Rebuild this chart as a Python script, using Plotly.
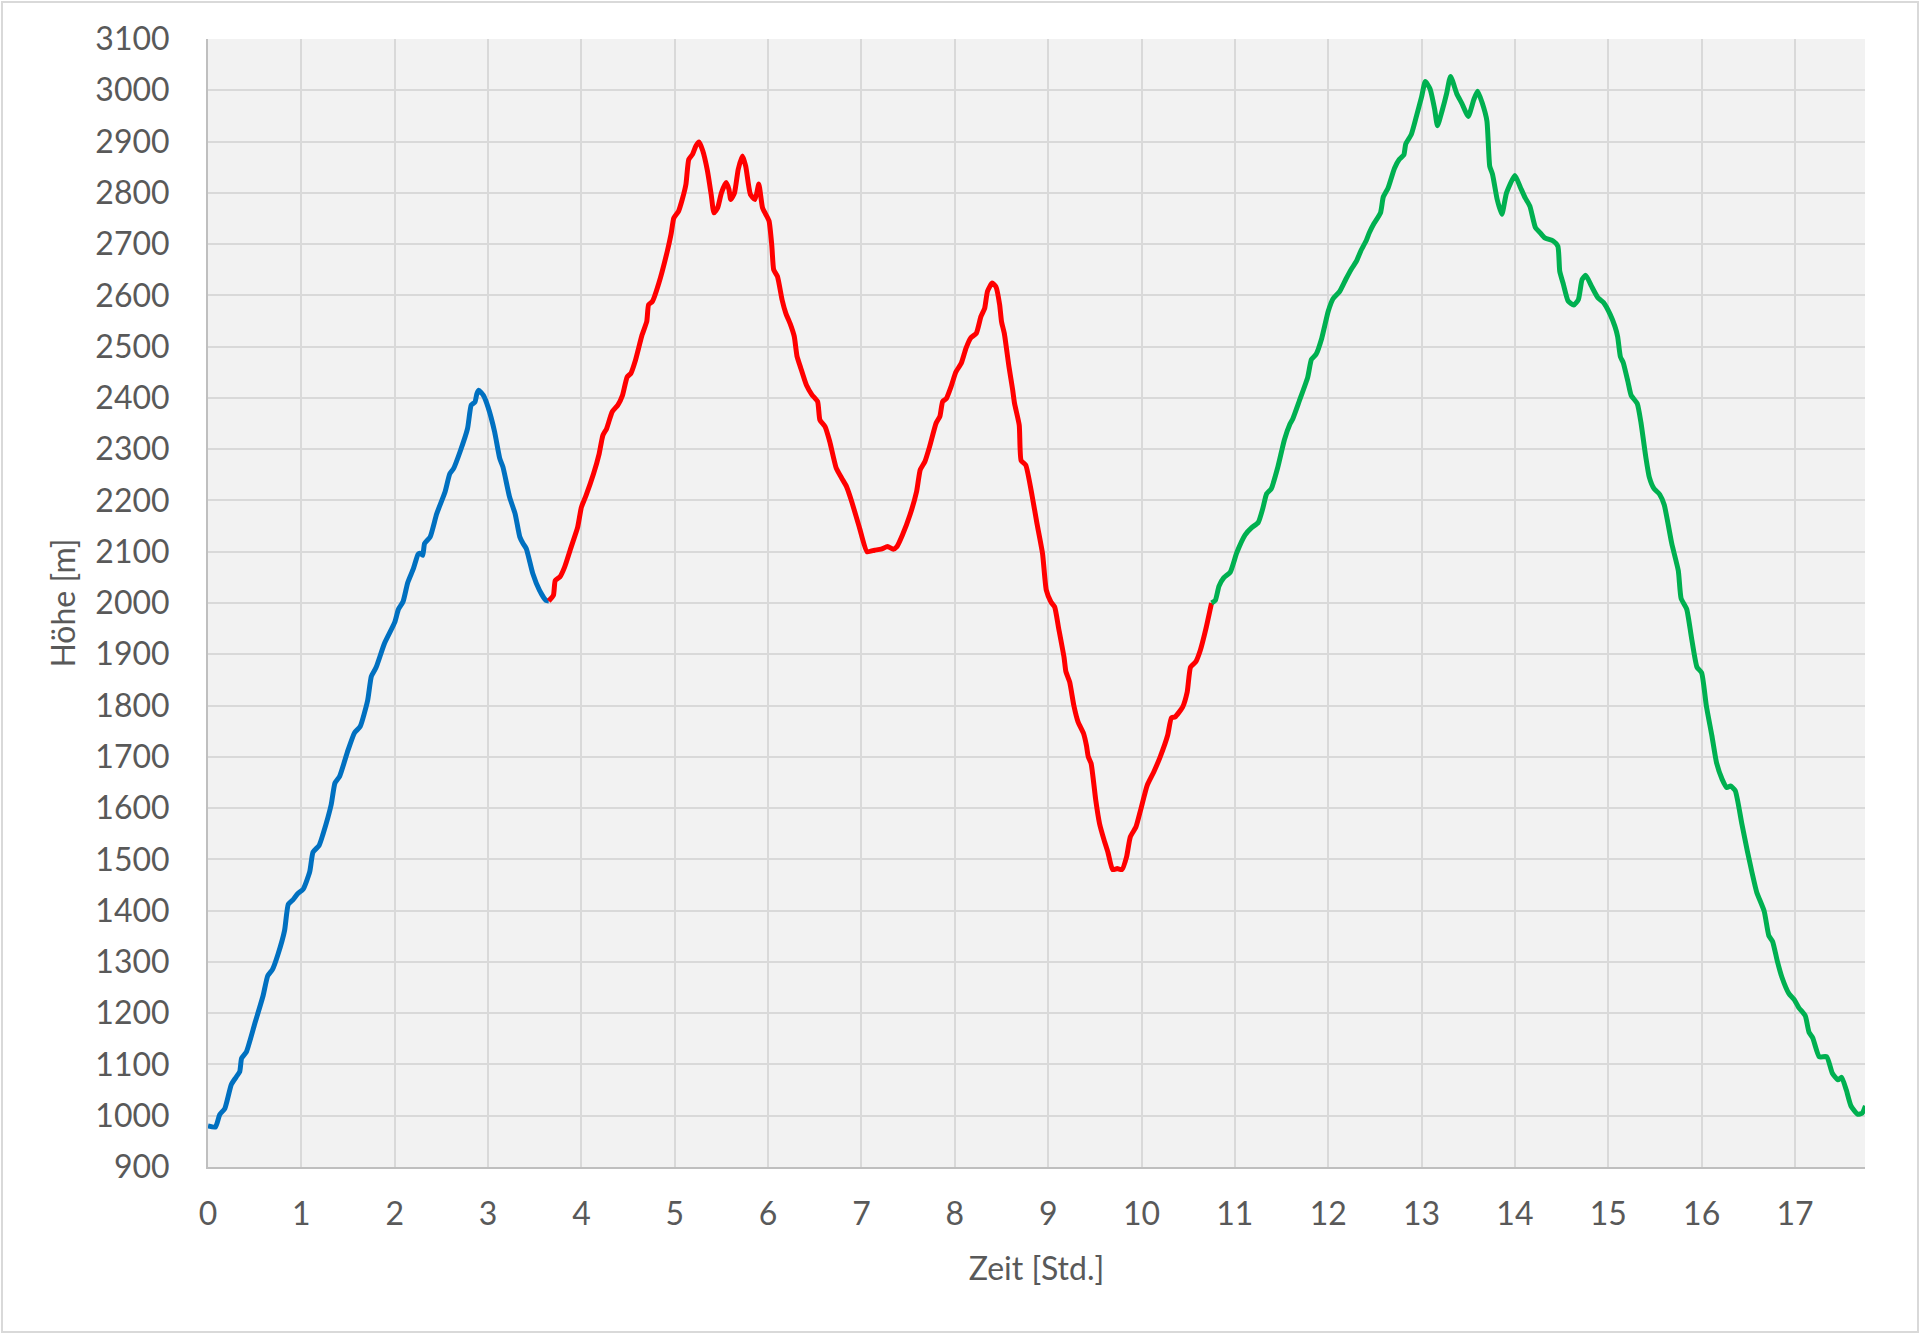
import plotly.graph_objects as go

# Höhenprofil einer Tour, drei Abschnitte (Stunden / Meter)
blue_t = [0.0, 0.08, 0.125, 0.18, 0.25, 0.30, 0.34, 0.36, 0.41, 0.50, 0.59, 0.64, 0.69, 0.75,
          0.82, 0.86, 0.91, 0.96, 1.02, 1.09, 1.125, 1.19, 1.23, 1.32, 1.36, 1.41, 1.50, 1.57,
          1.63, 1.71, 1.75, 1.80, 1.89, 2.0, 2.04, 2.09, 2.14, 2.20, 2.25, 2.27, 2.30, 2.32,
          2.38, 2.45, 2.54, 2.59, 2.63, 2.70, 2.78, 2.82, 2.86, 2.88, 2.90, 2.95, 3.0, 3.07,
          3.125, 3.16, 3.23, 3.29, 3.34, 3.375, 3.41, 3.48, 3.55, 3.62, 3.65]
blue_h = [980, 978, 1002, 1014, 1061, 1075, 1086, 1112, 1124, 1179, 1234, 1273, 1285, 1315,
          1361, 1412, 1421, 1433, 1442, 1476, 1514, 1527, 1548, 1607, 1649, 1662, 1713, 1747,
          1759, 1810, 1857, 1874, 1921, 1962, 1988, 2003, 2040, 2067, 2095, 2097, 2093, 2116,
          2129, 2174, 2217, 2252, 2262, 2295, 2340, 2386, 2392, 2408, 2415, 2405, 2382, 2334,
          2282, 2265, 2207, 2174, 2129, 2116, 2106, 2057, 2025, 2005, 2004]

red_t = [3.65, 3.70, 3.72, 3.77, 3.82, 3.89, 3.96, 4.0, 4.05, 4.13, 4.19, 4.23, 4.27, 4.33,
         4.39, 4.44, 4.49, 4.53, 4.58, 4.65, 4.70, 4.72, 4.76, 4.83, 4.92, 4.96, 4.99, 5.04,
         5.08, 5.12, 5.15, 5.19, 5.225, 5.26, 5.30, 5.35, 5.39, 5.42, 5.46, 5.50, 5.55, 5.58,
         5.60, 5.64, 5.68, 5.725, 5.76, 5.81, 5.86, 5.90, 5.94, 5.975, 6.01, 6.04, 6.06, 6.10,
         6.15, 6.19, 6.24, 6.28, 6.31, 6.35, 6.41, 6.47, 6.53, 6.555, 6.61, 6.66, 6.73, 6.79,
         6.84, 6.89, 6.98, 7.06, 7.14, 7.21, 7.28, 7.34, 7.38, 7.44, 7.52, 7.59, 7.63, 7.68,
         7.73, 7.80, 7.84, 7.87, 7.91, 7.96, 8.01, 8.07, 8.12, 8.17, 8.23, 8.28, 8.32, 8.35,
         8.40, 8.44, 8.48, 8.50, 8.53, 8.58, 8.62, 8.64, 8.69, 8.71, 8.76, 8.83, 8.88, 8.94,
         8.98, 9.03, 9.07, 9.11, 9.17, 9.19, 9.23, 9.275, 9.32, 9.38, 9.41, 9.43, 9.46, 9.51,
         9.55, 9.60, 9.64, 9.69, 9.74, 9.79, 9.84, 9.88, 9.94, 9.99, 10.06, 10.13, 10.20,
         10.28, 10.32, 10.36, 10.44, 10.49, 10.525, 10.58, 10.63, 10.69, 10.75]
red_h = [2004, 2015, 2044, 2051, 2070, 2109, 2148, 2187, 2210, 2252, 2291, 2327, 2340, 2373,
         2386, 2405, 2441, 2448, 2474, 2523, 2549, 2582, 2588, 2624, 2686, 2719, 2751, 2764,
         2787, 2817, 2865, 2875, 2891, 2899, 2882, 2843, 2797, 2761, 2771, 2800, 2820, 2807,
         2787, 2800, 2846, 2872, 2852, 2797, 2787, 2817, 2771, 2758, 2745, 2696, 2650, 2637,
         2591, 2565, 2543, 2520, 2481, 2458, 2425, 2406, 2393, 2357, 2344, 2315, 2263, 2243,
         2227, 2201, 2146, 2100, 2103, 2105, 2110, 2105, 2110, 2133, 2172, 2217, 2260, 2276,
         2305, 2351, 2364, 2393, 2399, 2422, 2450, 2468, 2497, 2517, 2526, 2559, 2575, 2608,
         2624, 2617, 2582, 2549, 2526, 2461, 2415, 2389, 2347, 2278, 2269, 2207, 2155, 2096,
         2025, 2002, 1992, 1953, 1894, 1866, 1846, 1800, 1768, 1745, 1722, 1700, 1687, 1615,
         1570, 1537, 1514, 1480, 1482, 1480, 1505, 1544, 1563, 1596, 1644, 1670, 1700,
         1742, 1776, 1778, 1797, 1827, 1875, 1885, 1908, 1950, 2000]

green_t = [10.75, 10.79, 10.83, 10.88, 10.95, 11.02, 11.11, 11.18, 11.25, 11.30, 11.34, 11.39,
           11.46, 11.53, 11.59, 11.62, 11.69, 11.78, 11.82, 11.87, 11.93, 12.0, 12.05, 12.12,
           12.19, 12.25, 12.30, 12.35, 12.41, 12.44, 12.49, 12.56, 12.59, 12.64, 12.71, 12.76,
           12.81, 12.83, 12.89, 12.94, 13.0, 13.04, 13.09, 13.14, 13.17, 13.22, 13.27, 13.31,
           13.38, 13.43, 13.50, 13.56, 13.60, 13.65, 13.70, 13.73, 13.76, 13.81, 13.86, 13.91,
           14.0, 14.06, 14.11, 14.16, 14.22, 14.27, 14.32, 14.41, 14.46, 14.48, 14.52, 14.57,
           14.63, 14.68, 14.72, 14.76, 14.82, 14.89, 14.95, 15.02, 15.07, 15.10, 15.13, 15.16,
           15.21, 15.245, 15.31, 15.35, 15.40, 15.44, 15.49, 15.55, 15.60, 15.68, 15.75, 15.78,
           15.84, 15.89, 15.95, 16.0, 16.05, 16.11, 16.16, 16.22, 16.27, 16.31, 16.36, 16.43,
           16.49, 16.54, 16.59, 16.67, 16.72, 16.76, 16.81, 16.86, 16.935, 16.99, 17.04, 17.11,
           17.15, 17.19, 17.26, 17.34, 17.40, 17.46, 17.50, 17.55, 17.60, 17.67, 17.72, 17.755]
green_h = [2000, 2005, 2033, 2049, 2060, 2098, 2133, 2147, 2157, 2185, 2213, 2223,
           2265, 2318, 2349, 2359, 2394, 2440, 2475, 2485, 2516, 2569, 2593, 2607,
           2632, 2652, 2666, 2687, 2708, 2722, 2740, 2761, 2792, 2809, 2848, 2865,
           2874, 2895, 2914, 2946, 2987, 3017, 3003, 2963, 2931, 2960, 2995, 3027,
           2992, 2975, 2949, 2982, 2998, 2975, 2940, 2852, 2836, 2787, 2758, 2800,
           2834, 2810, 2790, 2774, 2732, 2722, 2712, 2706, 2696, 2647, 2621, 2589,
           2581, 2592, 2631, 2639, 2618, 2595, 2586, 2563, 2540, 2520, 2480, 2469,
           2432, 2405, 2389, 2352, 2287, 2245, 2223, 2212, 2191, 2116, 2063, 2009,
           1988, 1934, 1875, 1864, 1800, 1741, 1688, 1656, 1640, 1643, 1634, 1570,
           1516, 1474, 1436, 1399, 1351, 1340, 1302, 1270, 1238, 1227, 1211, 1195,
           1163, 1152, 1115, 1115, 1083, 1070, 1075, 1050, 1019, 1003, 1005, 1019]

x_ticks = list(range(0, 18))
y_ticks = list(range(900, 3101, 100))

font = "Lato, 'Open Sans', sans-serif"
grey = "#595959"

fig = go.Figure()
for t, h, col in [(blue_t, blue_h, "#0070C0"), (red_t, red_h, "#FF0000"),
                  (green_t, green_h, "#00B050")]:
    fig.add_trace(go.Scatter(x=t, y=h, mode="lines",
                             line=dict(color=col, width=5, shape="spline", smoothing=0.5),
                             showlegend=False))

fig.update_layout(
    width=1920, height=1334,
    margin=dict(l=208, r=55, t=39, b=167),
    paper_bgcolor="white", plot_bgcolor="#F2F2F2",
    font=dict(family=font, size=32, color=grey),
    xaxis=dict(range=[0, 17.75], tickvals=x_ticks, showgrid=True, gridcolor="#D9D9D9",
               gridwidth=1.5, zeroline=False, showline=True, linecolor="#BFBFBF", linewidth=2,
               ticks="", ticklabelstandoff=18,
               title=dict(text="Zeit [Std.]", standoff=26, font=dict(size=32, color=grey))),
    yaxis=dict(range=[900, 3100], tickvals=y_ticks, showgrid=True, gridcolor="#D9D9D9",
               gridwidth=1.5, zeroline=False, showline=True, linecolor="#BFBFBF", linewidth=2,
               ticks="", ticklabelstandoff=30,
               title=dict(text="Höhe [m]", standoff=10, font=dict(size=32, color=grey))),
)

# heller Rahmen um das ganze Diagramm
pw, ph = 1920 - 208 - 55, 1334 - 39 - 167
fig.add_shape(type="rect", xref="paper", yref="paper", layer="below",
              x0=(2 - 208) / pw, x1=(1918 - 208) / pw,
              y0=-(1332 - 39 - ph) / ph, y1=(ph + 39 - 2) / ph,
              line=dict(color="#D9D9D9", width=2), fillcolor="rgba(0,0,0,0)")

# body margin of the page would shift the figure by 8px
fig.write_html("out.html", config={"displayModeBar": False},
               post_script="document.body.style.margin='0px';")
